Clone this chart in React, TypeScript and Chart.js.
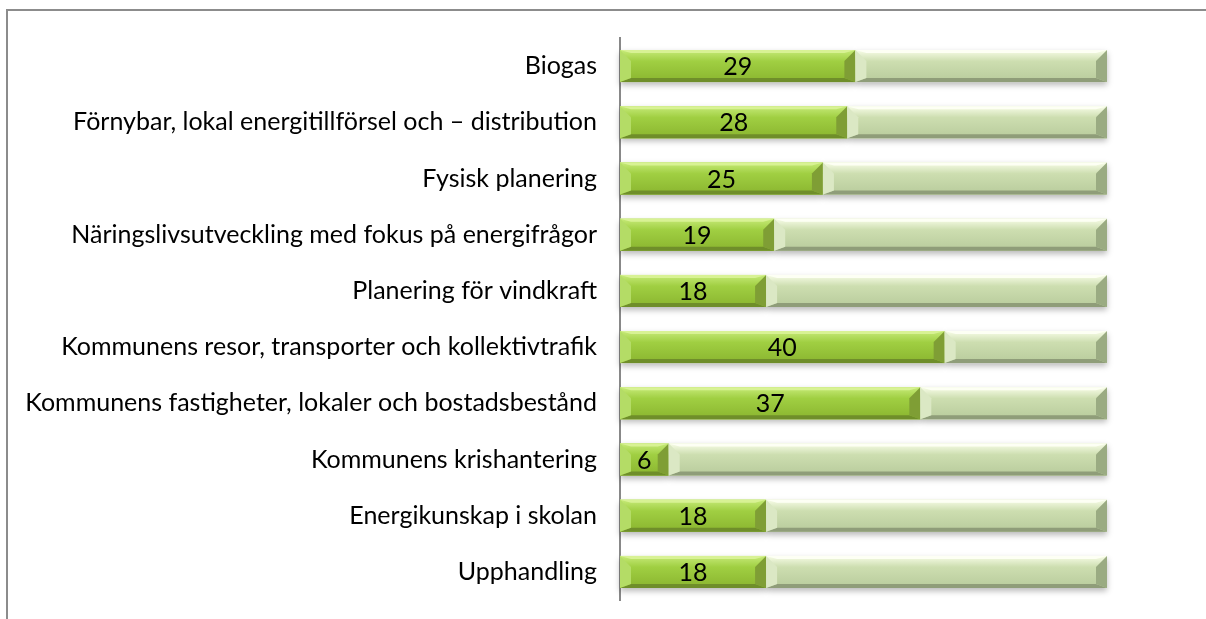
import React, { useEffect, useRef } from "react";
import { Chart, registerables } from "chart.js";

Chart.register(...registerables);

const categories = [
  "Biogas",
  "Förnybar, lokal energitillförsel och – distribution",
  "Fysisk planering",
  "Näringslivsutveckling med fokus på energifrågor",
  "Planering för vindkraft",
  "Kommunens resor, transporter och kollektivtrafik",
  "Kommunens fastigheter, lokaler och bostadsbestånd",
  "Kommunens krishantering",
  "Energikunskap i skolan",
  "Upphandling",
];
const values = [29, 28, 25, 19, 18, 40, 37, 6, 18, 18];
const total = 60;
const remainder = values.map((v) => total - v);

const FONT = "Lato, 'Liberation Sans', Arial, sans-serif";

const palettes = [
  { top: "#c6ea78", mid: "#a0cf42", bot: "#8ab52f", hi: "#d8f294", dark: "#6f8e2a", side: "#7f9e35", lside: "#b4dc66" },
  { top: "#f8fde8", mid: "#cddeb0", bot: "#b8cb9c", hi: "#fdfff4", dark: "#8f9d79", side: "#9aab82", lside: "#dbe8c4" },
];

const bevelPlugin = {
  id: "bevel",
  beforeDatasetsDraw(chart: any) {
    const ctx = chart.ctx;
    ctx.save();
    chart.data.datasets.forEach((_: any, di: number) => {
      const meta = chart.getDatasetMeta(di);
      meta.data.forEach((el: any) => {
        const l = Math.min(el.base, el.x);
        const r = Math.max(el.base, el.x);
        const t = el.y - el.height / 2;
        ctx.shadowColor = "rgba(0,0,0,0.28)";
        ctx.shadowBlur = 6;
        ctx.shadowOffsetY = 3;
        ctx.fillStyle = "#ffffff";
        ctx.fillRect(l, t, r - l, el.height);
      });
    });
    ctx.restore();
  },
  afterDatasetsDraw(chart: any) {
    const ctx = chart.ctx;
    ctx.save();
    chart.data.datasets.forEach((_: any, di: number) => {
      const p = palettes[di];
      const meta = chart.getDatasetMeta(di);
      meta.data.forEach((el: any, i: number) => {
        const l = Math.min(el.base, el.x);
        const r = Math.max(el.base, el.x);
        const h = el.height;
        const t = el.y - h / 2;
        const b = t + h;
        const w = r - l;
        const bw = Math.min(11, w / 2);
        const bt = 3;
        const bb = 4;
        const g = ctx.createLinearGradient(0, t, 0, b);
        g.addColorStop(0, p.top);
        g.addColorStop(0.35, p.mid);
        g.addColorStop(1, p.bot);
        ctx.fillStyle = g;
        ctx.fillRect(l, t, w, h);
        ctx.fillStyle = p.hi;
        ctx.beginPath();
        ctx.moveTo(l, t);
        ctx.lineTo(r, t);
        ctx.lineTo(r - bw, t + bt);
        ctx.lineTo(l + bw, t + bt);
        ctx.closePath();
        ctx.fill();
        ctx.fillStyle = p.dark;
        ctx.beginPath();
        ctx.moveTo(l, b);
        ctx.lineTo(r, b);
        ctx.lineTo(r - bw, b - bb);
        ctx.lineTo(l + bw, b - bb);
        ctx.closePath();
        ctx.fill();
        ctx.fillStyle = p.lside;
        ctx.beginPath();
        ctx.moveTo(l, t);
        ctx.lineTo(l + bw, t + bw);
        ctx.lineTo(l + bw, b - bb);
        ctx.lineTo(l, b);
        ctx.closePath();
        ctx.fill();
        ctx.fillStyle = p.side;
        ctx.beginPath();
        ctx.moveTo(r, t);
        ctx.lineTo(r - bw, t + bw);
        ctx.lineTo(r - bw, b - bb);
        ctx.lineTo(r, b);
        ctx.closePath();
        ctx.fill();
        if (di === 0) {
          ctx.fillStyle = "#000000";
          ctx.font = `25px ${FONT}`;
          ctx.textAlign = "center";
          ctx.textBaseline = "middle";
          ctx.fillText(String(values[i]), (l + r) / 2, el.y + 1);
        }
      });
    });
    ctx.restore();
  },
};

export default function App() {
  const ref = useRef<HTMLCanvasElement>(null);
  useEffect(() => {
    document.body.style.margin = "0";
    const chart = new Chart(ref.current!, {
      type: "bar",
      data: {
        labels: categories,
        datasets: [
          { data: values, backgroundColor: "#9dcb3f", borderWidth: 0 },
          { data: remainder, backgroundColor: "#cbdcae", borderWidth: 0 },
        ],
      },
      plugins: [bevelPlugin],
      options: {
        indexAxis: "y",
        responsive: false,
        animation: false,
        layout: { padding: { left: 10, right: 99, top: 38, bottom: 19 } },
        plugins: { legend: { display: false }, tooltip: { enabled: false } },
        datasets: { bar: { categoryPercentage: 1, barPercentage: 0.57 } },
        scales: {
          x: { stacked: true, min: 0, max: total, display: false },
          y: {
            stacked: true,
            grid: { display: false, drawTicks: false },
            border: { display: true, color: "#888888", width: 2 },
            ticks: { color: "#000000", font: { family: FONT, size: 25 }, padding: 23, autoSkip: false },
            afterFit: (s: any) => {
              s.width = 610;
              s.paddingTop = 0;
              s.paddingBottom = 0;
            },
          },
        },
      },
    } as any);
    return () => chart.destroy();
  }, []);
  return (
    <div style={{ position: "fixed", left: 0, top: 0, width: 1206, height: 619, overflow: "hidden", background: "#fff" }}>
      <canvas ref={ref} width={1206} height={619} style={{ position: "absolute", left: 0, top: 0 }} />
      <div
        style={{
          position: "absolute",
          left: 6,
          top: 9,
          width: 1300,
          height: 700,
          borderLeft: "2px solid #8c8c8c",
          borderTop: "2px solid #8c8c8c",
          pointerEvents: "none",
        }}
      />
    </div>
  );
}
